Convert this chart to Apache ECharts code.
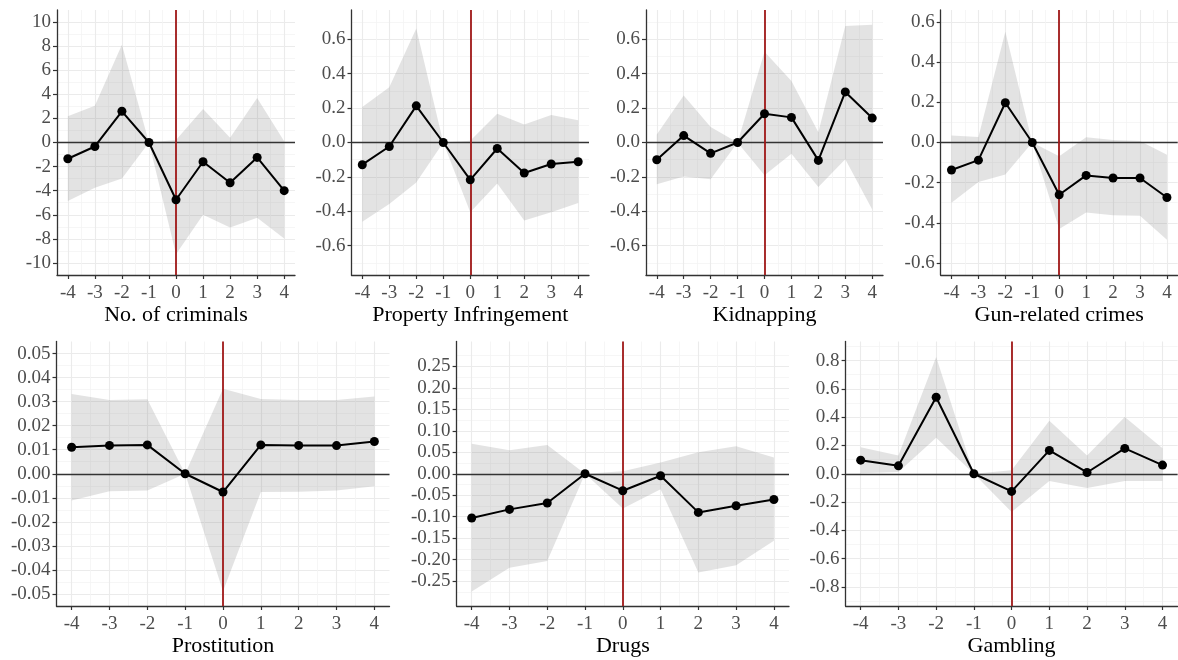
<!DOCTYPE html>
<html><head><meta charset="utf-8">
<script src="https://cdn.jsdelivr.net/npm/echarts@6/dist/echarts.min.js"></script>
<style>html,body{margin:0;padding:0;background:#fff}#c{width:1178px;height:660px}</style>
</head><body><div id="c"></div>
<script>
// ---------- data ----------
const periods = [-4, -3, -2, -1, 0, 1, 2, 3, 4];
const xTicks = [-4, -3, -2, -1, 0, 1, 2, 3, 4];
const titles = ['No. of criminals', 'Property Infringement', 'Kidnapping', 'Gun-related crimes', 'Prostitution', 'Drugs', 'Gambling'];

const criminalsEst = [-1.35, -0.33, 2.59, 0, -4.75, -1.6, -3.34, -1.24, -4.0];
const criminalsLo  = [-4.86, -3.75, -2.98, 0, -9.27, -6.0, -7.06, -6.24, -7.97];
const criminalsHi  = [2.18, 3.06, 8.11, 0, 0.2, 2.79, 0.39, 3.70, 0.1];
const criminalsTicks = [-10, -8, -6, -4, -2, 0, 2, 4, 6, 8, 10];

const propertyEst = [-0.129, -0.023, 0.213, 0, -0.217, -0.035, -0.177, -0.125, -0.112];
const propertyLo  = [-0.46, -0.358, -0.233, 0, -0.406, -0.238, -0.454, -0.406, -0.352];
const propertyHi  = [0.206, 0.321, 0.662, 0, 0.01, 0.167, 0.104, 0.16, 0.129];
const propertyTicks = [-0.6, -0.4, -0.2, 0, 0.2, 0.4, 0.6];

const kidnapEst = [-0.10, 0.04, -0.063, 0, 0.167, 0.146, -0.104, 0.294, 0.142];
const kidnapLo  = [-0.242, -0.198, -0.213, 0, -0.19, -0.065, -0.258, -0.098, -0.39];
const kidnapHi  = [0.046, 0.273, 0.09, 0, 0.527, 0.358, 0.06, 0.677, 0.685];
const kidnapTicks = [-0.6, -0.4, -0.2, 0, 0.2, 0.4, 0.6];

const gunEst = [-0.137, -0.088, 0.198, 0, -0.26, -0.164, -0.177, -0.177, -0.274];
const gunLo  = [-0.30, -0.197, -0.159, 0, -0.431, -0.349, -0.362, -0.365, -0.484];
const gunHi  = [0.035, 0.028, 0.552, 0, -0.068, 0.026, 0.012, 0.007, -0.061];
const gunTicks = [-0.6, -0.4, -0.2, 0, 0.2, 0.4, 0.6];

const prostEst = [0.011, 0.0118, 0.012, 0, -0.0076, 0.012, 0.0118, 0.0117, 0.0134];
const prostLo  = [-0.0111, -0.0073, -0.007, 0, -0.0489, -0.0076, -0.0075, -0.007, -0.0052];
const prostHi  = [0.0332, 0.0307, 0.031, 0, 0.0354, 0.0311, 0.0307, 0.0307, 0.0321];
const prostTicks = [-0.05, -0.04, -0.03, -0.02, -0.01, 0, 0.01, 0.02, 0.03, 0.04, 0.05];

const drugsEst = [-0.103, -0.083, -0.068, 0, -0.0395, -0.0047, -0.09, -0.0744, -0.06];
const drugsLo  = [-0.274, -0.219, -0.203, 0, -0.081, -0.036, -0.23, -0.213, -0.156];
const drugsHi  = [0.07, 0.055, 0.067, 0, 0.006, 0.026, 0.05, 0.064, 0.038];
const drugsTicks = [-0.25, -0.2, -0.15, -0.1, -0.05, 0, 0.05, 0.1, 0.15, 0.2, 0.25];

const gamblingEst = [0.096, 0.056, 0.541, 0, -0.125, 0.165, 0.009, 0.179, 0.061];
const gamblingLo  = [0.003, 0.012, 0.254, 0, -0.27, -0.052, -0.101, -0.052, -0.052];
const gamblingHi  = [0.188, 0.129, 0.826, 0, 0.024, 0.374, 0.129, 0.402, 0.181];
const gamblingTicks = [-0.8, -0.6, -0.4, -0.2, 0, 0.2, 0.4, 0.6, 0.8];

// ---------- layout / style ----------
const panels = [
  {est: criminalsEst, lo: criminalsLo, hi: criminalsHi, ticks: criminalsTicks, dec: 0, lim: 11,    box: [57, 10, 238, 265]},
  {est: propertyEst,  lo: propertyLo,  hi: propertyHi,  ticks: propertyTicks,  dec: 1, lim: 0.77,  box: [351.5, 10, 237.5, 265]},
  {est: kidnapEst,    lo: kidnapLo,    hi: kidnapHi,    ticks: kidnapTicks,    dec: 1, lim: 0.77,  box: [646, 10, 237, 265]},
  {est: gunEst,       lo: gunLo,       hi: gunHi,       ticks: gunTicks,       dec: 1, lim: 0.66,  box: [940.7, 10, 237, 265]},
  {est: prostEst,     lo: prostLo,     hi: prostHi,     ticks: prostTicks,     dec: 2, lim: 0.055, box: [56.5, 341.5, 333, 264.5]},
  {est: drugsEst,     lo: drugsLo,     hi: drugsHi,     ticks: drugsTicks,     dec: 2, lim: 0.308, box: [456.6, 341.5, 332.4, 264.5]},
  {est: gamblingEst,  lo: gamblingLo,  hi: gamblingHi,  ticks: gamblingTicks,  dec: 1, lim: 0.935, box: [845.6, 341.5, 332, 264.5]}
];
const XLIM = 4.4;
const FONT = 'Liberation Serif';

function minorOf(ticks, lim) {
  const out = [];
  const step = ticks[1] - ticks[0];
  const cand = [ticks[0] - step / 2];
  for (let i = 0; i < ticks.length - 1; i++) cand.push((ticks[i] + ticks[i + 1]) / 2);
  cand.push(ticks[ticks.length - 1] + step / 2);
  cand.forEach(v => { if (Math.abs(v) < lim - 1e-9) out.push(v); });
  return out;
}
const xMinor = minorOf(xTicks, XLIM);

const grid = [], xAxis = [], yAxis = [], series = [];
const majorGrid = {color: '#ebebeb', width: 1.1};
const minorGrid = {color: '#f4f4f4', width: 0.8};

panels.forEach((p, i) => {
  grid.push({left: p.box[0], top: p.box[1], width: p.box[2], height: p.box[3], containLabel: false, outerBoundsMode: 'none'});
  const xi = xAxis.length, yi = yAxis.length;
  xAxis.push({
    type: 'value', gridIndex: i, min: -XLIM, max: XLIM, position: 'bottom',
    name: titles[i], nameLocation: 'middle', nameGap: 27,
    nameTextStyle: {fontFamily: FONT, fontSize: 22, color: '#000'},
    axisLine: {show: true, onZero: false, lineStyle: {color: '#333', width: 1.3}},
    axisTick: {show: true, length: 4, customValues: xTicks, lineStyle: {color: '#333', width: 1.2}},
    axisLabel: {customValues: xTicks, margin: 9, color: '#4d4d4d', fontFamily: FONT, fontSize: 19},
    splitLine: {show: true, lineStyle: majorGrid}
  });
  xAxis.push({
    type: 'value', gridIndex: i, min: -XLIM, max: XLIM, position: 'top',
    axisLine: {show: false, onZero: false}, axisLabel: {show: false},
    axisTick: {show: false, customValues: xMinor},
    splitLine: {show: true, lineStyle: minorGrid}
  });
  yAxis.push({
    type: 'value', gridIndex: i, min: -p.lim, max: p.lim, position: 'left',
    axisLine: {show: true, onZero: false, lineStyle: {color: '#333', width: 1.3}},
    axisTick: {show: true, length: 4, customValues: p.ticks, lineStyle: {color: '#333', width: 1.2}},
    axisLabel: {customValues: p.ticks, margin: 6, color: '#4d4d4d', fontFamily: FONT, fontSize: 19,
      formatter: v => (Math.abs(v) < 1e-12 ? 0 : v).toFixed(p.dec)},
    splitLine: {show: true, lineStyle: majorGrid}
  });
  yAxis.push({
    type: 'value', gridIndex: i, min: -p.lim, max: p.lim, position: 'right',
    axisLine: {show: false, onZero: false}, axisLabel: {show: false},
    axisTick: {show: false, customValues: minorOf(p.ticks, p.lim)},
    splitLine: {show: true, lineStyle: minorGrid}
  });
  // confidence band (polygon through the scale coordinates of hi then lo)
  series.push({
    type: 'custom', xAxisIndex: xi, yAxisIndex: yi, silent: true, z: 1,
    data: periods.map((x, k) => [x, p.lo[k], p.hi[k]]),
    encode: {x: 0, y: [1, 2]},
    renderItem: (params, api) => {
      if (params.dataIndex !== 0) return null;
      const pts = [];
      for (let k = 0; k < periods.length; k++) pts.push(api.coord([periods[k], p.hi[k]]));
      for (let k = periods.length - 1; k >= 0; k--) pts.push(api.coord([periods[k], p.lo[k]]));
      return {type: 'polygon', shape: {points: pts}, style: {fill: 'rgba(128,128,128,0.22)'}};
    }
  });
  series.push({
    type: 'line', xAxisIndex: xi, yAxisIndex: yi,
    data: periods.map((x, k) => [x, p.est[k]]),
    symbol: 'circle', symbolSize: 9, showSymbol: true, showAllSymbol: true,
    itemStyle: {color: '#000'}, lineStyle: {color: '#000', width: 2}, z: 10, silent: true,
    markLine: {
      silent: true, symbol: ['none', 'none'], label: {show: false}, animation: false, z: 4,
      emphasis: {disabled: true},
      data: [
        {yAxis: 0, lineStyle: {color: '#333', width: 1.4, type: 'solid'}},
        {xAxis: 0, lineStyle: {color: '#a01818', width: 1.8, type: 'solid'}}
      ]
    }
  });
});

const chart = echarts.init(document.getElementById('c'), null, {renderer: 'canvas'});
chart.setOption({animation: false, backgroundColor: '#fff', grid, xAxis, yAxis, series});
</script></body></html>
